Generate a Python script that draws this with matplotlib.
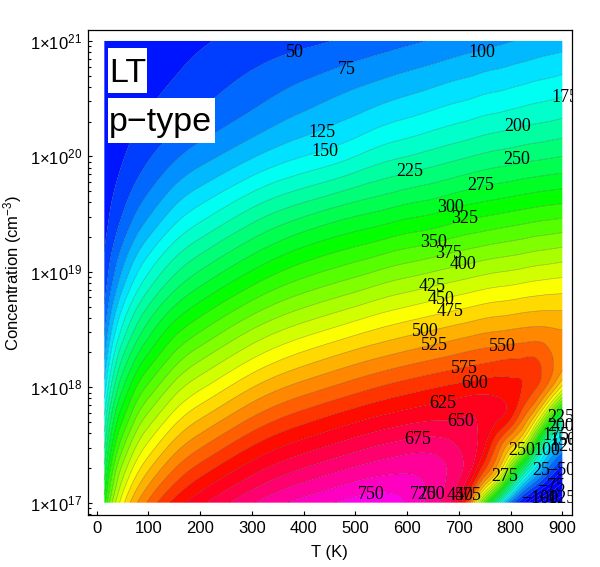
import numpy as np
import matplotlib
matplotlib.use("Agg")
import matplotlib.pyplot as plt
import matplotlib.tri as mtri
from matplotlib.colors import hsv_to_rgb
from matplotlib.patches import Rectangle
from matplotlib.ticker import FixedLocator, FuncFormatter, LogLocator, NullFormatter

# ---------------- data ----------------
temps_K = [15, 30, 50, 75, 100, 150, 200, 300, 400, 500, 550, 600, 650, 700,
           725, 750, 775, 800, 825, 850, 875, 900]
log10_conc = [17.0, 17.25, 17.5, 17.75, 18.0, 18.25, 18.5, 19.0, 19.5, 20.0, 20.5, 21.0]

# Seebeck coefficient (uV/K), one row per concentration
s_17_00 = [313, 400, 465, 519, 554, 608, 643, 697, 734, 760, 765, 748, 712, 640, 535, 355, 203, 73, -5, -65, -102, -125]
s_17_25 = [265, 350, 416, 469, 505, 558, 594, 647, 685, 712, 722, 725, 715, 680, 640, 562, 484, 342, 203, 112, 44, -15]
s_17_50 = [220, 301, 366, 420, 455, 509, 544, 598, 635, 663, 675, 685, 688, 672, 658, 628, 570, 511, 440, 290, 165, 105]
s_17_75 = [176, 257, 317, 370, 406, 459, 495, 548, 586, 614, 626, 636, 643, 648, 650, 644, 630, 607, 555, 488, 370, 255]
s_18_00 = [135, 210, 271, 322, 356, 410, 445, 499, 536, 564, 577, 588, 598, 607, 611, 614, 614, 610, 598, 576, 535, 465]
s_18_25 = [99, 167, 226, 274, 308, 360, 396, 449, 487, 515, 527, 538, 548, 558, 563, 567, 571, 574, 576, 575, 556, 538]
s_18_50 = [70, 127, 181, 228, 262, 313, 346, 400, 437, 465, 478, 489, 499, 509, 514, 519, 522, 525, 528, 530, 528, 525]
s_19_00 = [32, 65, 103, 143, 173, 220, 252, 302, 340, 366, 379, 390, 400, 410, 415, 420, 424, 427, 431, 435, 438, 441]
s_19_50 = [15, 30, 50, 75, 96, 135, 163, 210, 245, 271, 281, 292, 300, 312, 317, 321, 325, 329, 333, 337, 340, 343]
s_20_00 = [8, 14, 23, 35, 47, 70, 89, 122, 150, 175, 190, 200, 210, 220, 225, 230, 234, 237, 241, 244, 247, 250]
s_20_50 = [6, 8, 11, 17, 22, 32, 44, 67, 89, 109, 119, 128, 137, 146, 150, 155, 158, 162, 166, 170, 173, 177]
s_21_00 = [5, 7, 9, 11, 13, 17, 22, 35, 44, 56, 63, 70, 77, 84, 88, 91, 95, 99, 102, 106, 110, 113]
seebeck_rows = [s_17_00, s_17_25, s_17_50, s_17_75, s_18_00, s_18_25,
                s_18_50, s_19_00, s_19_50, s_20_00, s_20_50, s_21_00]

contour_levels = list(range(-150, 801, 25))

# contour labels as printed on the reference
label_text = ["50", "75", "100", "175", "125", "150", "200", "250", "225", "275",
              "300", "325", "350", "375", "400", "425", "450", "475", "500", "525",
              "550", "575", "600", "625", "650", "675", "750",
              "725", "700", "450", "475", "275", "250", "100", "25", "\u221250",
              "\u221275", "\u2212100", "\u2212125",
              "225", "200", "175", "150", "125"]
label_T = [383, 484, 745, 905, 436, 442, 814, 812, 606, 743,
           683, 712, 652, 681, 708, 648, 666, 683, 635, 652,
           785, 710, 731, 668, 703, 621, 530,
           631, 649, 702, 717, 789, 822, 870, 859, 897,
           878, 857, 890,
           896, 897, 888, 902, 903]
label_logn = [20.896, 20.757, 20.896, 20.506, 20.203, 20.038, 20.255, 19.969, 19.865, 19.752,
              19.553, 19.458, 19.250, 19.155, 19.060, 18.869, 18.756, 18.652, 18.479, 18.358,
              18.349, 18.158, 18.028, 17.855, 17.699, 17.543, 17.067,
              17.067, 17.067, 17.058, 17.058, 17.230, 17.450, 17.450, 17.280, 17.280,
              17.140, 17.040, 17.040,
              17.734, 17.656, 17.578, 17.535, 17.483]

# ---------------- figure ----------------
plt.rcParams["mathtext.fontset"] = "custom"
plt.rcParams["mathtext.rm"] = "Liberation Sans"
plt.rcParams["mathtext.it"] = "Liberation Sans:italic"
plt.rcParams["font.family"] = ["Liberation Sans", "DejaVu Sans"]

fig = plt.figure(figsize=(6.0, 5.67), dpi=100)
ax = fig.add_axes([0.1462, 0.0917, 0.8067, 0.8554])

T = np.array(temps_K, dtype=float)
L = np.array(log10_conc, dtype=float)
Z = np.array(seebeck_rows, dtype=float)
TT, LL = np.meshgrid(T, L)

nx, ny = len(T), len(L)
tris = []
for j in range(ny - 1):
    for i in range(nx - 1):
        a = j * nx + i
        b = a + 1
        c = a + nx
        d = c + 1
        tris.append([a, b, d])
        tris.append([a, d, c])
tri = mtri.Triangulation(TT.ravel(), LL.ravel(), np.array(tris))
interp = mtri.CubicTriInterpolator(tri, Z.ravel(), kind="min_E")
refiner = mtri.UniformTriRefiner(tri)
tri_r, z_r = refiner.refine_field(Z.ravel(), triinterpolator=interp, subdiv=4)
tri_plot = mtri.Triangulation(tri_r.x, 10.0 ** tri_r.y, tri_r.triangles)

band_colors = []
for lo, hi in zip(contour_levels[:-1], contour_levels[1:]):
    mid = min(max((lo + hi) / 2.0, 0.0), 775.0)
    hue = ((240.0 - 300.0 * mid / 775.0) / 360.0) % 1.0
    band_colors.append(hsv_to_rgb([hue, 1.0, 1.0]))

ax.tricontourf(tri_plot, z_r, levels=contour_levels, colors=band_colors, antialiased=True)
ax.tricontour(tri_plot, z_r, levels=contour_levels, colors=[(0, 0, 0, 0.3)], linewidths=0.45)

for txt, tx, ly in zip(label_text, label_T, label_logn):
    ax.text(tx, 10.0 ** ly, txt, ha="center", va="center", fontsize=13,
            family=["Liberation Serif", "DejaVu Serif"], color="black", clip_on=True, zorder=5)

ax.set_yscale("log")
ax.set_xlim(-17.1, 918.2)
ax.set_ylim(10 ** 16.893, 10 ** 21.095)

ax.xaxis.set_major_locator(FixedLocator(list(range(0, 901, 100))))
ax.yaxis.set_major_locator(FixedLocator([1e17, 1e18, 1e19, 1e20, 1e21]))
ax.yaxis.set_minor_locator(LogLocator(base=10, subs=range(2, 10)))
ax.yaxis.set_minor_formatter(NullFormatter())
ax.yaxis.set_major_formatter(FuncFormatter(
    lambda v, p: r"$1{\times}10^{%d}$" % int(round(np.log10(v)))))

ax.tick_params(axis="both", which="both", direction="in", top=False, right=False,
               labelsize=12, width=0.8, colors="black")
ax.tick_params(axis="both", which="major", length=3.2)
ax.tick_params(axis="y", which="minor", length=2.0)
ax.tick_params(axis="x", which="major", pad=4.5)
ax.tick_params(axis="y", which="major", pad=4.0)
for sp in ax.spines.values():
    sp.set_linewidth(0.9)

ax.set_xlabel("T (K)", fontsize=12, labelpad=6)
ax.set_ylabel(r"Concentration (cm$^{-3}$)", fontsize=12, labelpad=4)

# white label boxes (LT / p-type)
ax.add_patch(Rectangle((0.0413, 0.8707), 0.0806, 0.0915, transform=ax.transAxes,
                       facecolor="white", edgecolor="none", zorder=6))
ax.add_patch(Rectangle((0.0413, 0.7676), 0.2217, 0.0915, transform=ax.transAxes,
                       facecolor="white", edgecolor="none", zorder=6))
ax.text(0.044, 0.8922, "LT", transform=ax.transAxes, ha="left", va="baseline",
        fontsize=24.5, zorder=7)
ax.text(0.044, 0.7918, "p\u2212type", transform=ax.transAxes, ha="left", va="baseline",
        fontsize=24.5, zorder=7)

fig.savefig("out.png", dpi=100)
